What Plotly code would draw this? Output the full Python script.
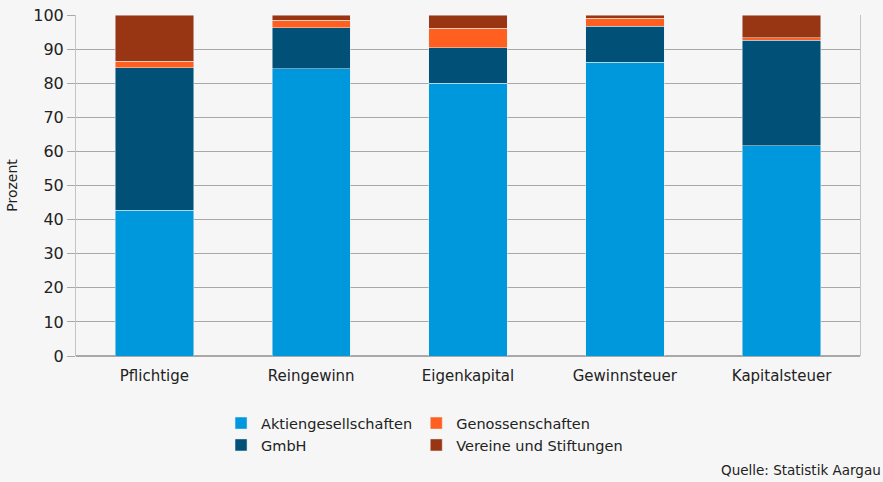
import plotly.graph_objects as go

categories = ["Pflichtige", "Reingewinn", "Eigenkapital", "Gewinnsteuer", "Kapitalsteuer"]
aktiengesellschaften = [42.8, 84.2, 80.0, 86.1, 61.6]
gmbh = [41.8, 12.0, 10.4, 10.6, 31.0]
genossenschaften = [1.8, 2.2, 5.7, 2.3, 0.8]
vereine = [13.6, 1.6, 3.9, 1.0, 6.6]

series = [
    ("Aktiengesellschaften", aktiengesellschaften, "#0098dc", "legend"),
    ("GmbH", gmbh, "#005077", "legend"),
    ("Genossenschaften", genossenschaften, "#ff5f1f", "legend2"),
    ("Vereine und Stiftungen", vereine, "#983512", "legend2"),
]

FONT = "DejaVu Sans, Verdana, Arial"

fig = go.Figure()
for name, values, color, leg in series:
    fig.add_trace(go.Bar(
        x=categories, y=values, name=name, legend=leg,
        marker=dict(color=color, line=dict(width=0.5, color="#e8eef2")),
    ))

legend_style = dict(
    orientation="v", xanchor="left", yanchor="top", y=-0.15,
    bgcolor="rgba(0,0,0,0)", font=dict(size=14.5, color="#222"),
    tracegroupgap=0, traceorder="normal",
)

fig.update_layout(
    barmode="stack",
    bargap=0.5,
    width=883, height=482,
    margin=dict(l=76, r=23, t=15, b=126, autoexpand=False),
    paper_bgcolor="#f6f6f6",
    plot_bgcolor="#f6f6f6",
    font=dict(family=FONT, size=15, color="#222"),
    legend=dict(x=0.185, **legend_style),
    legend2=dict(x=0.434, **legend_style),
    xaxis=dict(showgrid=False, ticks="outside", ticklen=6,
               tickcolor="rgba(0,0,0,0)", tickfont=dict(size=15)),
    yaxis=dict(
        range=[0, 100], dtick=10, showgrid=True, gridcolor="#a8a8a8", gridwidth=1.3,
        showline=True, linecolor="#c4c4c4", mirror=True, ticks="outside",
        ticklen=8, tickcolor="#a8a8a8", zeroline=True, zerolinecolor="#a8a8a8",
        title=dict(text="Prozent", font=dict(size=14), standoff=12),
        tickfont=dict(size=16),
    ),
    annotations=[dict(
        text="Quelle: Statistik Aargau", xref="paper", yref="paper",
        x=1.029, y=-0.335, xanchor="right", yanchor="middle", showarrow=False,
        font=dict(size=13.5, color="#222"),
    )],
)

fig.write_html(
    "out.html",
    config={"displayModeBar": False},
    post_script="document.body.style.margin='0';document.body.style.background='#f6f6f6';",
)
